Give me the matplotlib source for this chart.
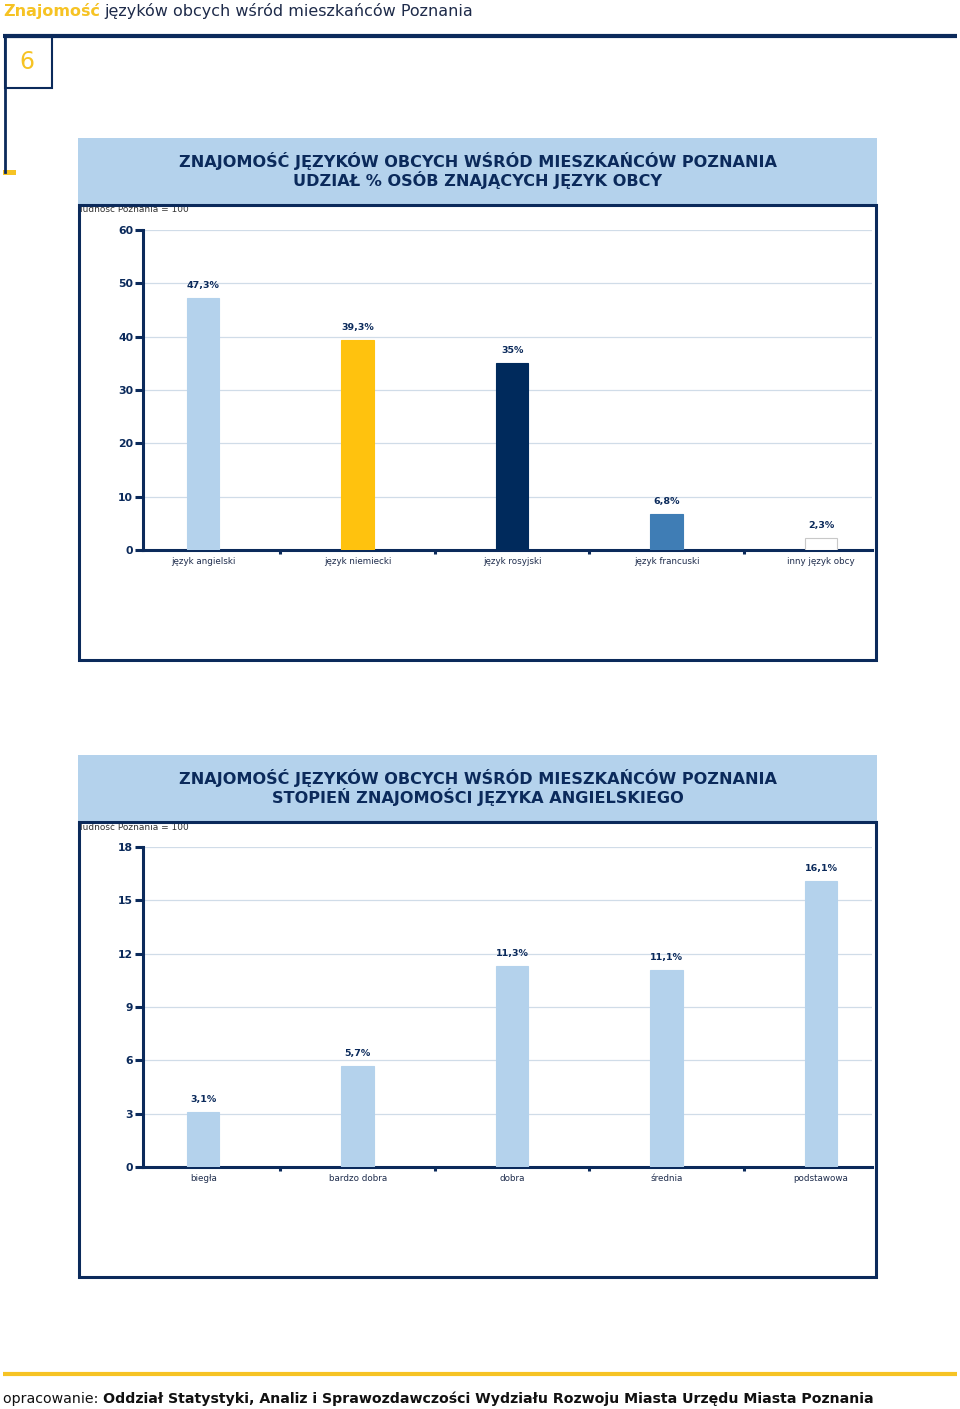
#!/usr/bin/env python3
# -*- coding: utf-8 -*-
"""Znajomość języków obcych wśród mieszkańców Poznania - two bar panels."""

import matplotlib
matplotlib.use("Agg")
import matplotlib.pyplot as plt
from matplotlib.patches import Rectangle

# ------------ DATA ------------
LANGS = ["język angielski", "język niemiecki", "język rosyjski",
         "język francuski", "inny język obcy"]
LANG_SHARE = [47.3, 39.3, 35.0, 6.8, 2.3]

LEVELS = ["biegła", "bardzo dobra", "dobra", "średnia", "podstawowa"]
LEVEL_SHARE = [3.1, 5.7, 11.3, 11.1, 16.1]

TICKS_1 = [0, 10, 20, 30, 40, 50, 60]
TICKS_2 = [0, 3, 6, 9, 12, 15, 18]

TITLE_1 = ["ZNAJOMOŚĆ JĘZYKÓW OBCYCH WŚRÓD MIESZKAŃCÓW POZNANIA",
           "UDZIAŁ % OSÓB ZNAJĄCYCH JĘZYK OBCY"]
TITLE_2 = ["ZNAJOMOŚĆ JĘZYKÓW OBCYCH WŚRÓD MIESZKAŃCÓW POZNANIA",
           "STOPIEŃ ZNAJOMOŚCI JĘZYKA ANGIELSKIEGO"]
# -------------------------------

NAVY = "#0B2A5B"
YELLOW = "#F6C324"
LIGHT = "#B4D2EC"
GRID = "#D0DCE8"
BAR_COLORS_1 = [LIGHT, "#FFC20E", "#002A5C", "#3F7DB5", "white"]

W, H = 960, 1409
plt.rcParams["font.family"] = ["DejaVu Sans"]

fig = plt.figure(figsize=(W / 100, H / 100), dpi=100)
bg = fig.add_axes([0, 0, 1, 1])
bg.set_xlim(0, W)
bg.set_ylim(H, 0)
bg.axis("off")


def fmt(v):
    return f"{v:g}".replace(".", ",") + "%"


# page header
t = bg.text(3, 11, "Znajomość", color=YELLOW, fontsize=11.5, fontweight="bold",
            va="center", ha="left")
fig.canvas.draw()
bb = t.get_window_extent()
bg.text(bb.x1 + 4, 11, "języków obcych wśród mieszkańców Poznania",
        color="#1E2B4A", fontsize=11.5, va="center", ha="left")

bg.plot([3, 957], [36, 36], color=NAVY, lw=3, solid_capstyle="butt")
bg.add_patch(Rectangle((5, 37), 47, 51, fill=False, ec=NAVY, lw=1.5))
bg.text(27, 62, "6", color=YELLOW, fontsize=17, ha="center", va="center")
bg.plot([5, 5], [37, 172], color=NAVY, lw=2)
bg.add_patch(Rectangle((3, 170), 13, 5, fc=YELLOW, ec="none"))

# footer
bg.plot([3, 957], [1374, 1374], color=YELLOW, lw=3, solid_capstyle="butt")
t = bg.text(3, 1399, "opracowanie: ", color="#111111", fontsize=10.15,
            va="center", ha="left")
fig.canvas.draw()
bb = t.get_window_extent()
bg.text(bb.x1, 1399,
        "Oddział Statystyki, Analiz i Sprawozdawczości Wydziału Rozwoju Miasta Urzędu Miasta Poznania",
        color="#111111", fontsize=10.15, fontweight="bold", va="center", ha="left")


def panel(top, titles, cats, vals, ticks, colors):
    # header band and frame
    bg.add_patch(Rectangle((78, top), 799, 67, fc=LIGHT, ec="none", zorder=2))
    bg.text(80, top + 72, "ludność Poznania = 100", fontsize=6.5, color="#333333",
            va="center", ha="left", zorder=1)
    bg.add_patch(Rectangle((79, top + 67), 797, 455, fill=False, ec=NAVY,
                           lw=2.2, zorder=3))
    bg.text(478, top + 23, titles[0], fontsize=11.6, fontweight="bold",
            color=NAVY, ha="center", va="center", zorder=4)
    bg.text(478, top + 42, titles[1], fontsize=11.6, fontweight="bold",
            color=NAVY, ha="center", va="center", zorder=4)

    y_top, y_bot = top + 92, top + 412
    ax = fig.add_axes([143 / W, 1 - y_bot / H, 729 / W, (y_bot - y_top) / H])
    ax.set_facecolor("none")
    x = list(range(len(cats)))
    ax.bar(x, vals, width=0.21, color=colors, edgecolor=[
        "#C8C8C8" if c == "white" else c for c in colors], lw=0.8, zorder=3)
    for xi, v in zip(x, vals):
        ax.annotate(fmt(v), (xi, v), xytext=(0, 9), textcoords="offset points",
                    ha="center", va="center", fontsize=6.8, fontweight="bold",
                    color=NAVY)
    ax.set_xlim(-0.39, 4.33)
    ax.set_ylim(0, ticks[-1])
    ax.set_yticks(ticks)
    ax.set_yticklabels([str(v) for v in ticks], fontsize=7.8,
                       fontweight="bold", color=NAVY)
    ax.tick_params(axis="y", length=6, width=2.2, color=NAVY, pad=1)
    ax.set_xticks([0.5, 1.5, 2.5, 3.5])
    ax.set_xticklabels([])
    ax.tick_params(axis="x", length=3, width=2.2, color=NAVY, direction="out")
    for yi in ticks[1:]:
        ax.axhline(yi, color=GRID, lw=0.9, zorder=1)
    for xi, c in zip(x, cats):
        ax.text(xi, -ticks[-1] * 0.037, c, ha="center", va="center",
                fontsize=6.3, color="#1F2D4D")
    for s in ["top", "right"]:
        ax.spines[s].set_visible(False)
    ax.spines["left"].set_color(NAVY)
    ax.spines["left"].set_linewidth(2.2)
    ax.spines["bottom"].set_color(NAVY)
    ax.spines["bottom"].set_linewidth(2.2)
    return ax


panel(138, TITLE_1, LANGS, LANG_SHARE, TICKS_1, BAR_COLORS_1)
panel(755, TITLE_2, LEVELS, LEVEL_SHARE, TICKS_2, [LIGHT] * 5)

fig.savefig("out.png", dpi=100)
